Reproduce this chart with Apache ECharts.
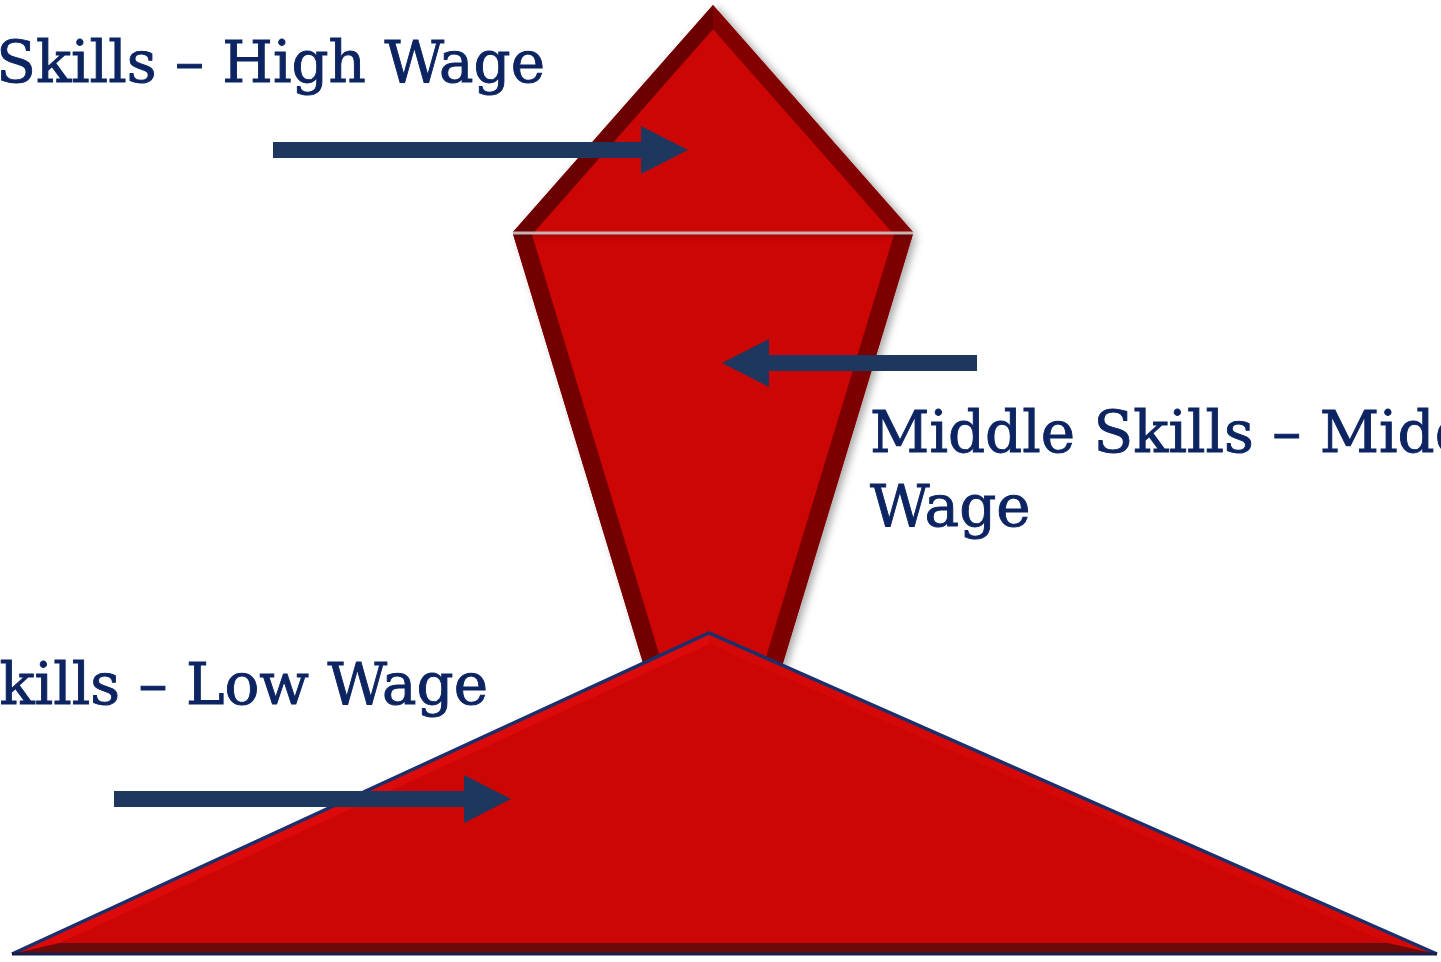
<!DOCTYPE html>
<html>
<head>
<meta charset="utf-8">
<script src="https://cdn.jsdelivr.net/npm/echarts@6/dist/echarts.min.js"></script>
<style>
  html, body { margin: 0; padding: 0; background: #fff; }
  .main { width: 1441px; height: 962px; }
</style>
</head>
<body>
<div class="main"></div>
<script>
// outlines of the three pieces (x, y with y growing downward)
var topTriangle = [[513, 232], [713, 5], [913, 232]];
var middleKite = [[513, 234], [913, 234], [713, 894]];
var baseTriangle = [[12, 954], [709, 633], [1437, 954]];

// arrows: shaft start, tip, height
var arrowFromX = [273, 977, 114];
var arrowToX = [688, 722, 511];
var arrowY = [150, 363, 799];

// text lines and the baseline point each one hangs from
var labelText = ['High Skills \u2013 High Wage', 'Middle Skills \u2013 Middle', 'Wage', 'Low Skills \u2013 Low Wage'];
var labelX = [545, 870, 870, 488];
var labelY = [83, 453, 527, 705];

var RED = '#cc0505';
var NAVY = '#1e375e';
var TEXT = '#0c2461';
var FONT_SIZE = 58;
var FONT = FONT_SIZE + 'px "DejaVu Serif"';

var chart = echarts.init(document.querySelector('.main'));

// move every edge inward by its own width, return new corners
function inset(pts, widths) {
    var n = pts.length, cx = 0, cy = 0, lines = [], out = [], i;
    pts.forEach(function(p) { cx += p[0] / n; cy += p[1] / n; });
    for (i = 0; i < n; i++) {
        var a = pts[i], b = pts[(i + 1) % n];
        var dx = b[0] - a[0], dy = b[1] - a[1], len = Math.sqrt(dx * dx + dy * dy);
        var ux = dx / len, uy = dy / len, nx = -uy, ny = ux;
        var mx = (a[0] + b[0]) / 2, my = (a[1] + b[1]) / 2;
        if ((cx - mx) * nx + (cy - my) * ny < 0) { nx = -nx; ny = -ny; }
        lines.push({ x: a[0] + nx * widths[i], y: a[1] + ny * widths[i], ux: ux, uy: uy });
    }
    for (i = 0; i < n; i++) {
        var l1 = lines[(i + n - 1) % n], l2 = lines[i];
        var den = l1.ux * l2.uy - l1.uy * l2.ux;
        var t = ((l2.x - l1.x) * l2.uy - (l2.y - l1.y) * l2.ux) / den;
        out.push([l1.x + l1.ux * t, l1.y + l1.uy * t]);
    }
    return out;
}

function bevelShape(outline, widths, colors, shadow) {
    return function(params, api) {
        var outer = outline.map(function(p) { return api.coord(p); });
        var inner = inset(outer, widths);
        var children = [{
            type: 'polygon',
            shape: { points: outer },
            style: {
                fill: RED,
                shadowColor: shadow ? 'rgba(0,0,0,0.35)' : 'transparent',
                shadowBlur: shadow ? 8 : 0,
                shadowOffsetX: shadow ? 4 : 0,
                shadowOffsetY: shadow ? 2 : 0
            }
        }];
        for (var i = 0; i < outer.length; i++) {
            if (!widths[i]) continue;
            var j = (i + 1) % outer.length;
            children.push({
                type: 'polygon',
                shape: { points: [outer[i], outer[j], inner[j], inner[i]] },
                style: { fill: colors[i] }
            });
        }
        return { type: 'group', children: children };
    };
}

function arrowItem(params, api) {
    var i = params.dataIndex;
    var a = api.coord([arrowFromX[i], arrowY[i]]);
    var b = api.coord([arrowToX[i], arrowY[i]]);
    var dir = b[0] > a[0] ? 1 : -1;
    var head = b[0] - dir * 47, y = a[1];
    return {
        type: 'polygon',
        shape: { points: [
            [a[0], y - 8], [head, y - 8], [head, y - 24], [b[0], y],
            [head, y + 24], [head, y + 8], [a[0], y + 8]
        ] },
        style: { fill: NAVY }
    };
}

function labelItem(params, api) {
    var i = params.dataIndex;
    var p = api.coord([labelX[i], labelY[i]]);
    return {
        type: 'text',
        x: p[0],
        y: p[1] + Math.round(FONT_SIZE * 0.226),
        style: {
            text: labelText[i],
            fill: TEXT,
            stroke: TEXT,
            lineWidth: 0.9,
            font: FONT,
            align: i === 0 || i === 3 ? 'right' : 'left',
            verticalAlign: 'bottom'
        }
    };
}

var option = {
    animation: false,
    grid: { left: 0, right: 0, top: 0, bottom: 0 },
    xAxis: { type: 'value', min: 0, max: 1441, show: false },
    yAxis: { type: 'value', min: 0, max: 962, inverse: true, show: false },
    series: [
        {
            type: 'custom', data: [[0, 0]], z: 1,
            renderItem: bevelShape(middleKite, [0, 18, 18], [null, '#7c0000', '#720000'], true)
        },
        {
            type: 'custom', data: [[0, 0]], z: 2,
            renderItem: bevelShape(topTriangle, [16, 16, 0], ['#6a0000', '#830000', null], true)
        },
        {
            type: 'custom', data: [[0, 0]], z: 3,
            renderItem: function(params, api) {
                var l = api.coord(topTriangle[0]), r = api.coord(topTriangle[2]);
                return { type: 'line', shape: { x1: l[0], y1: l[1] + 1, x2: r[0], y2: r[1] + 1 },
                    style: { stroke: '#c9b2b2', lineWidth: 3 } };
            }
        },
        {
            type: 'custom', data: [[0, 0]], z: 4,
            renderItem: function(params, api) {
                var pts = baseTriangle.map(function(p) { return api.coord(p); });
                var body = bevelShape(baseTriangle, [10, 10, 11], ['#dc0a0a', '#d50808', '#6b0a0a'], false)(params, api);
                body.children.push({
                    type: 'polyline', shape: { points: [pts[0], pts[1], pts[2]] },
                    style: { stroke: '#1c2f6b', lineWidth: 3.5, fill: null, lineJoin: 'miter' }
                });
                body.children.push({
                    type: 'line', shape: { x1: pts[0][0], y1: pts[0][1], x2: pts[2][0], y2: pts[2][1] },
                    style: { stroke: '#14204a', lineWidth: 3 }
                });
                return body;
            }
        },
        {
            type: 'custom', z: 5,
            data: arrowY.map(function(y, i) { return [arrowFromX[i], y]; }),
            renderItem: arrowItem
        },
        {
            type: 'custom', z: 6,
            data: labelText.map(function(t, i) { return [labelX[i], labelY[i]]; }),
            renderItem: labelItem
        }
    ]
};

chart.setOption(option);
</script>
</body>
</html>
